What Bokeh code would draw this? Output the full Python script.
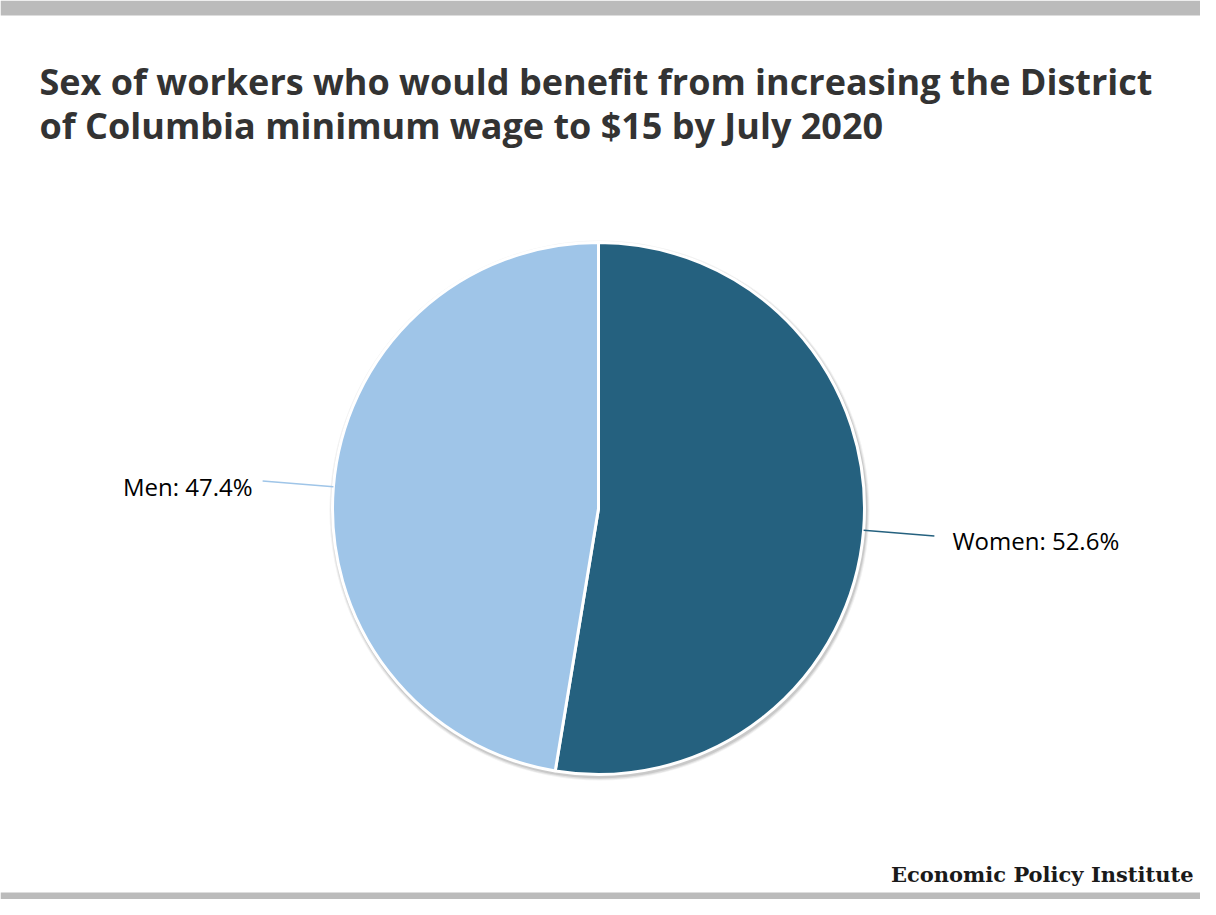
import numpy as np
from bokeh.plotting import figure
from bokeh.models import Range1d, ColumnDataSource
from bokeh.core.properties import value
from bokeh.embed import file_html
from bokeh.resources import INLINE

# ---- data ----
categories = ["Women", "Men"]
shares = [52.6, 47.4]
colors = ["#25617f", "#9fc5e8"]
title_lines = ["Sex of workers who would benefit from increasing the District",
               "of Columbia minimum wage to $15 by July 2020"]
credit = "Economic Policy Institute"

W, H = 1200, 899

def X(rx):
    return rx

def Y(ry):
    return H - ry

p = figure(width=W, height=H, output_backend="svg", toolbar_location=None,
           x_range=Range1d(0, W), y_range=Range1d(0, H), min_border=0,
           background_fill_color="white", border_fill_color="white")
p.axis.visible = False
p.grid.visible = False
p.outline_line_color = None

# gray bars
p.quad(left=[0], right=[W], bottom=[Y(15)], top=[H], color="#bbbbbb", line_color=None)
p.quad(left=[0], right=[W], bottom=[0], top=[7], color="#bbbbbb", line_color=None)

# title
tfont = value("Open Sans")
for ln, base in zip(title_lines, [81, 125]):
    p.text(x=[X(39)], y=[Y(base)], text=[ln], text_font=tfont,
           text_font_style="bold", text_font_size="36px", text_color="#333333",
           text_baseline="alphabetic")

# pie geometry
cx, cy, r = X(598), Y(508), 266
vals = np.array(shares, dtype=float)
frac = vals / vals.sum()
cum = np.concatenate([[0], np.cumsum(frac)])
# clockwise from top
start_cw = np.pi / 2 - cum[:-1] * 2 * np.pi
end_cw = np.pi / 2 - cum[1:] * 2 * np.pi
mid = (start_cw + end_cw) / 2

# shadow
for dr, a in [(4, 0.05), (3, 0.07), (2, 0.10)]:
    p.circle(x=[cx + 1], y=[cy - 2], radius=r + dr, radius_units="screen",
             fill_color="#000000", fill_alpha=a, line_color=None)

src = ColumnDataSource(dict(start=end_cw, end=start_cw, color=colors))
p.wedge(x=cx, y=cy, radius=r, radius_units="screen", start_angle="start",
        end_angle="end", fill_color="color", line_color="white", line_width=3,
        source=src)

# connectors & labels
for i, cat in enumerate(categories):
    a = mid[i]
    x0, y0 = cx + r * np.cos(a), cy + r * np.sin(a)
    x1, y1 = cx + (r + 71) * np.cos(a), cy + (r + 71) * np.sin(a)
    p.line(x=[x0, x1], y=[y0, y1], line_color=colors[i], line_width=1.5)
    right = np.cos(a) > 0
    lx = x1 + 18 if right else x1 - 10
    p.text(x=[lx], y=[y1 - 5], text=[f"{cat}: {shares[i]}%"],
           text_font=value("Open Sans"), text_font_size="24px", text_color="#000000",
           text_align="left" if right else "right", text_baseline="middle")

# credit
p.text(x=[X(1193)], y=[Y(874)], text=[credit], text_font=value("DejaVu Serif"),
       text_font_style="bold", text_font_size="21px", text_color="#1a1a1a",
       text_align="right", text_baseline="alphabetic")

open("out.html", "w").write(file_html(p, INLINE))
